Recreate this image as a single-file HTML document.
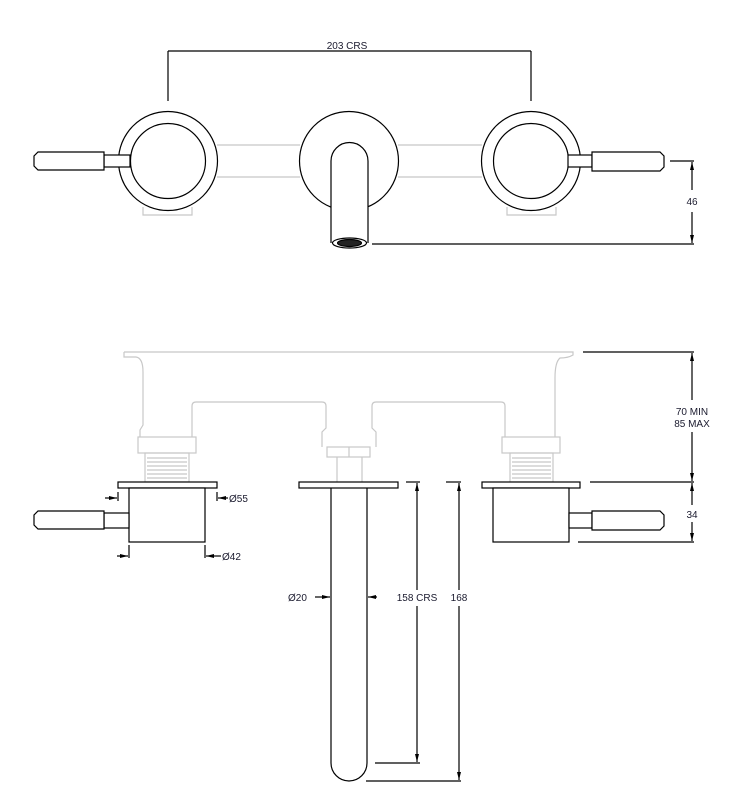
<!DOCTYPE html>
<html><head><meta charset="utf-8"><style>
html,body{margin:0;padding:0;background:#fff;}
svg{display:block;}
text{font-family:"Liberation Sans",sans-serif;font-size:10px;fill:#1a1a2e;}
</style></head><body>
<svg width="731" height="809" viewBox="0 0 731 809" xmlns="http://www.w3.org/2000/svg">
<defs>
<marker id="a" markerWidth="8" markerHeight="6" refX="8" refY="3" orient="auto" markerUnits="userSpaceOnUse"><path d="M0,1 L8,3 L0,5 z" fill="#000"/></marker>
</defs>
<g fill="none" stroke="#000" stroke-width="1.2">
<!-- TOP VIEW -->
<g stroke="#c8c8c8">
<line x1="217" y1="145" x2="300" y2="145"/><line x1="217" y1="177" x2="300" y2="177"/>
<line x1="398" y1="145" x2="482" y2="145"/><line x1="398" y1="177" x2="482" y2="177"/>
<path d="M143,207 L143,215 L192,215 L192,207"/>
<path d="M507,207 L507,215 L556,215 L556,207"/>
</g>
<circle cx="168" cy="161" r="49.5" fill="#fff"/>
<circle cx="168" cy="161" r="37.5"/>
<circle cx="531" cy="161" r="49.5" fill="#fff"/>
<circle cx="531" cy="161" r="37.5"/>
<circle cx="349" cy="161" r="49.5" fill="#fff"/>
<path d="M331,243 L331,161 A18.5,18.5 0 0 1 368,161 L368,243" fill="#fff"/>
<ellipse cx="349.5" cy="243" rx="17" ry="5" fill="#fff"/>
<ellipse cx="349.5" cy="243" rx="12" ry="3.5" fill="#222"/>
<rect x="104" y="155" width="26" height="12" fill="#fff"/>
<path d="M38,152 L104,152 L104,170 L38,170 L34,166 L34,156 Z" fill="#fff"/>
<rect x="568" y="155" width="24" height="12" fill="#fff"/>
<path d="M592,152 L660,152 L664,156 L664,167 L660,171 L592,171 Z" fill="#fff"/>
<!-- top dims -->
<line x1="168" y1="51" x2="531" y2="51"/>
<line x1="168" y1="51" x2="168" y2="101"/>
<line x1="531" y1="51" x2="531" y2="101"/>
<line x1="670" y1="161" x2="694" y2="161"/>
<line x1="372" y1="244" x2="694" y2="244"/>
<line x1="692" y1="190" x2="692" y2="162" marker-end="url(#a)"/>
<line x1="692" y1="212" x2="692" y2="243" marker-end="url(#a)"/>

<!-- SIDE VIEW grey body -->
<g stroke="#c8c8c8">
<path d="M124,352 H573 V355 Q568,358 560,358 Q555,362 555,378 L555,437"/>
<path d="M124,352 V357 H136 Q143,358 143,372 L143,425 L140,430 L140,437"/>
<path d="M192,437 L192,406 Q192,402 196,402 L322,402 Q326,402 326,406 L326,428 L322,432 L322,447"/>
<path d="M505,437 L505,406 Q505,402 501,402 L376,402 Q372,402 372,406 L372,428 L376,432 L376,447"/>
<rect x="138" y="437" width="58" height="16"/>
<rect x="502" y="437" width="58" height="16"/>
<rect x="327" y="447" width="43" height="10"/><line x1="349" y1="447" x2="349" y2="457"/>
<line x1="337" y1="457" x2="337" y2="482"/><line x1="362" y1="457" x2="362" y2="482"/>
<rect x="145" y="453" width="44" height="29"/>
<rect x="510" y="453" width="43" height="29"/>
<path d="M147,458 H187 M147,462 H187 M147,466 H187 M147,470 H187 M147,474 H187 M147,478 H187 M512,458 H551 M512,462 H551 M512,466 H551 M512,470 H551 M512,474 H551 M512,478 H551"/>
</g>
<!-- side black -->
<rect x="118" y="482" width="99" height="6" fill="#fff"/>
<rect x="129" y="488" width="76" height="54" fill="#fff"/>
<rect x="104" y="513" width="25" height="15" fill="#fff"/>
<path d="M38,511 L104,511 L104,529 L38,529 L34,525 L34,515 Z" fill="#fff"/>
<rect x="299" y="482" width="99" height="6" fill="#fff"/>
<path d="M331,488 L331,763 A18,18 0 0 0 367,763 L367,488"/>
<rect x="482" y="482" width="98" height="6" fill="#fff"/>
<rect x="493" y="488" width="76" height="54" fill="#fff"/>
<rect x="569" y="513" width="23" height="15" fill="#fff"/>
<path d="M592,511 L660,511 L664,515 L664,526 L660,530 L592,530 Z" fill="#fff"/>
<!-- side dims -->
<line x1="583" y1="352" x2="694" y2="352"/>
<line x1="590" y1="482" x2="694" y2="482"/>
<line x1="578" y1="542" x2="694" y2="542"/>
<line x1="692" y1="400" x2="692" y2="353" marker-end="url(#a)"/>
<line x1="692" y1="432" x2="692" y2="481" marker-end="url(#a)"/>
<line x1="692" y1="505" x2="692" y2="483" marker-end="url(#a)"/>
<line x1="692" y1="522" x2="692" y2="541" marker-end="url(#a)"/>
<line x1="118" y1="492" x2="118" y2="501"/><line x1="105" y1="498" x2="117" y2="498" marker-end="url(#a)"/>
<line x1="217" y1="492" x2="217" y2="501"/><line x1="228" y1="498" x2="218" y2="498" marker-end="url(#a)"/>
<line x1="129" y1="545" x2="129" y2="558"/><line x1="117" y1="556" x2="128" y2="556" marker-end="url(#a)"/>
<line x1="205" y1="545" x2="205" y2="558"/><line x1="221" y1="556" x2="206" y2="556" marker-end="url(#a)"/>
<line x1="315" y1="597" x2="330" y2="597" marker-end="url(#a)"/>
<line x1="377" y1="597" x2="368" y2="597" marker-end="url(#a)"/>
<line x1="406" y1="482" x2="420" y2="482"/>
<line x1="446" y1="482" x2="461" y2="482"/>
<line x1="375" y1="763" x2="420" y2="763"/>
<line x1="366" y1="781" x2="461" y2="781"/>
<line x1="417" y1="590" x2="417" y2="483" marker-end="url(#a)"/>
<line x1="417" y1="606" x2="417" y2="762" marker-end="url(#a)"/>
<line x1="459" y1="590" x2="459" y2="483" marker-end="url(#a)"/>
<line x1="459" y1="606" x2="459" y2="780" marker-end="url(#a)"/>
</g>
<text x="347" y="49" text-anchor="middle">203 CRS</text>
<text x="692" y="205" text-anchor="middle">46</text>
<text x="692" y="415" text-anchor="middle">70 MIN</text>
<text x="692" y="427" text-anchor="middle">85 MAX</text>
<text x="692" y="518" text-anchor="middle">34</text>
<text x="229" y="502">Ø55</text>
<text x="222" y="560">Ø42</text>
<text x="288" y="601">Ø20</text>
<text x="417" y="601" text-anchor="middle" style="paint-order:stroke" stroke="#fff" stroke-width="4">158 CRS</text>
<text x="459" y="601" text-anchor="middle" style="paint-order:stroke" stroke="#fff" stroke-width="4">168</text>
</svg>
</body></html>
